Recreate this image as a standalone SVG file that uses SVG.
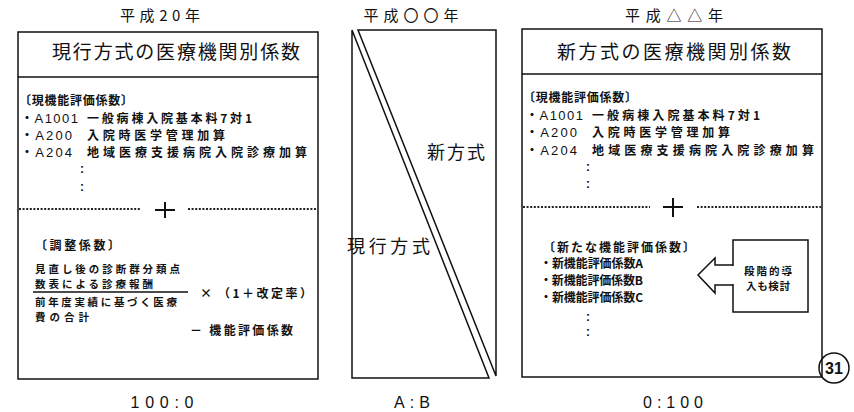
<svg xmlns="http://www.w3.org/2000/svg" width="854" height="412" viewBox="0 0 854 412">
<style>
text{font-family:"Noto Sans CJK JP","Noto Sans CJK SC",sans-serif;fill:#111;}
.hd{font-size:15px;text-anchor:middle;}
.ti{font-size:19px;}
.b{font-size:12px;font-weight:bold;}
.s{font-size:10.5px;font-weight:bold;}
.c{font-family:"Liberation Sans",sans-serif;font-size:13px;font-weight:normal;}
.cl{font-family:"Liberation Sans",sans-serif;font-size:12px;font-weight:bold;text-anchor:middle;}
.mid{font-size:18px;}
.ft{font-family:"Liberation Sans",sans-serif;font-size:16px;text-anchor:middle;}
.ln{fill:none;stroke:#111;stroke-width:1.5;}
.dot{fill:none;stroke:#222;stroke-width:2;stroke-dasharray:2 1.6;}
.pl{fill:none;stroke:#111;stroke-width:2;}
</style>
<rect width="854" height="412" fill="#fff"/>

<g id="panel-current">
<text class="hd" x="160" y="21" textLength="80" lengthAdjust="spacing">平成20年</text>
<rect class="ln" x="18" y="32" width="300" height="347"/>
<line class="ln" x1="18" y1="77" x2="318" y2="77"/>
<text class="ti" x="52" y="59" textLength="248" lengthAdjust="spacing">現行方式の医療機関別係数</text>
<text class="b" x="19" y="105" textLength="114" lengthAdjust="spacing">〔現機能評価係数〕</text>
<text class="b" x="21" y="123" textLength="57" lengthAdjust="spacing">・<tspan class="c">A1001</tspan></text>
<text class="b" x="87" y="123" textLength="165" lengthAdjust="spacing">一般病棟入院基本料7対1</text>
<text class="b" x="21" y="140" textLength="51" lengthAdjust="spacing">・<tspan class="c">A200</tspan></text>
<text class="b" x="87" y="140" textLength="138" lengthAdjust="spacing">入院時医学管理加算</text>
<text class="b" x="21" y="157" textLength="51" lengthAdjust="spacing">・<tspan class="c">A204</tspan></text>
<text class="b" x="87" y="157" textLength="220" lengthAdjust="spacing">地域医療支援病院入院診療加算</text>
<text class="cl" x="82" y="173">:</text>
<text class="cl" x="82" y="191">:</text>
<line class="dot" x1="19" y1="209" x2="141" y2="209"/>
<line class="dot" x1="188" y1="209" x2="317" y2="209"/>
<line class="pl" x1="155" y1="210" x2="175" y2="210"/>
<line class="pl" x1="165" y1="202" x2="165" y2="218"/>
<text class="b" x="35" y="250" textLength="85" lengthAdjust="spacing">〔調整係数〕</text>
<text class="s" x="35" y="273" textLength="145" lengthAdjust="spacing">見直し後の診断群分類点</text>
<text class="s" x="35" y="288" textLength="118" lengthAdjust="spacing">数表による診療報酬</text>
<line class="ln" x1="33" y1="292" x2="188" y2="292"/>
<text class="s" x="35" y="306" textLength="142" lengthAdjust="spacing">前年度実績に基づく医療</text>
<text class="s" x="35" y="321" textLength="54" lengthAdjust="spacing">費の合計</text>
<text class="b" x="200" y="298">×</text>
<text class="b" x="218" y="298" textLength="94" lengthAdjust="spacing">（1＋改定率）</text>
<text class="b" x="190" y="335" textLength="103" lengthAdjust="spacing">－ 機能評価係数</text>
<text class="ft" x="162" y="408" textLength="63" lengthAdjust="spacing">100:0</text>
</g>

<g id="panel-transition">
<text class="hd" x="411" y="21" textLength="95" lengthAdjust="spacing">平成〇〇年</text>
<path class="ln" d="M489,378 L352,378 L352,30 Z"/>
<path class="ln" d="M358,30 L496,30 L496,376 Z"/>
<text class="mid" x="427" y="159" textLength="58" lengthAdjust="spacing">新方式</text>
<text class="mid" x="347" y="253" textLength="83" lengthAdjust="spacing">現行方式</text>
<text class="ft" x="412" y="408" textLength="36" lengthAdjust="spacing">A:B</text>
</g>

<g id="panel-new">
<text class="hd" x="674" y="21" textLength="98" lengthAdjust="spacing">平成△△年</text>
<rect class="ln" x="522" y="29" width="300" height="348"/>
<line class="ln" x1="522" y1="74" x2="822" y2="74"/>
<text class="ti" x="557" y="59" textLength="234" lengthAdjust="spacing">新方式の医療機関別係数</text>
<text class="b" x="523" y="102" textLength="114" lengthAdjust="spacing">〔現機能評価係数〕</text>
<text class="b" x="526" y="120" textLength="57" lengthAdjust="spacing">・<tspan class="c">A1001</tspan></text>
<text class="b" x="592" y="120" textLength="168" lengthAdjust="spacing">一般病棟入院基本料7対1</text>
<text class="b" x="526" y="137" textLength="51" lengthAdjust="spacing">・<tspan class="c">A200</tspan></text>
<text class="b" x="592" y="137" textLength="138" lengthAdjust="spacing">入院時医学管理加算</text>
<text class="b" x="526" y="155" textLength="51" lengthAdjust="spacing">・<tspan class="c">A204</tspan></text>
<text class="b" x="592" y="155" textLength="222" lengthAdjust="spacing">地域医療支援病院入院診療加算</text>
<text class="cl" x="588" y="171">:</text>
<text class="cl" x="588" y="188">:</text>
<line class="dot" x1="523" y1="207" x2="650" y2="207"/>
<line class="dot" x1="697" y1="207" x2="821" y2="207"/>
<line class="pl" x1="663" y1="207" x2="683" y2="207"/>
<line class="pl" x1="673" y1="198" x2="673" y2="217"/>
<text class="b" x="543" y="252" textLength="152" lengthAdjust="spacing">〔新たな機能評価係数〕</text>
<text class="b" x="540" y="268" textLength="103" lengthAdjust="spacing">・新機能評価係数A</text>
<text class="b" x="540" y="285" textLength="103" lengthAdjust="spacing">・新機能評価係数B</text>
<text class="b" x="540" y="302" textLength="103" lengthAdjust="spacing">・新機能評価係数C</text>
<text class="cl" x="588" y="321">:</text>
<text class="cl" x="588" y="336">:</text>
<text class="ft" x="673" y="408" textLength="60" lengthAdjust="spacing">0:100</text>
</g>

<g id="callout">
<rect class="ln" x="733" y="240" width="75" height="72" fill="#fff"/>
<text class="s" x="768" y="275" text-anchor="middle" textLength="48" lengthAdjust="spacing">段階的導</text>
<text class="s" x="768" y="290" text-anchor="middle" textLength="44" lengthAdjust="spacing">入も検討</text>
</g>

<g id="connectors">
<rect x="731" y="266" width="4" height="18" fill="#fff"/>
<path class="ln" d="M733,265 H715 V258 L698,275 L715,293 V285 H733" stroke-linejoin="miter"/>
</g>

<g id="page-number">
<circle class="ln" cx="834" cy="368" r="15" fill="#fff"/>
<text x="834" y="374" text-anchor="middle" style="font-family:'Liberation Sans',sans-serif;font-size:16px;font-weight:bold">31</text>
</g>
</svg>
